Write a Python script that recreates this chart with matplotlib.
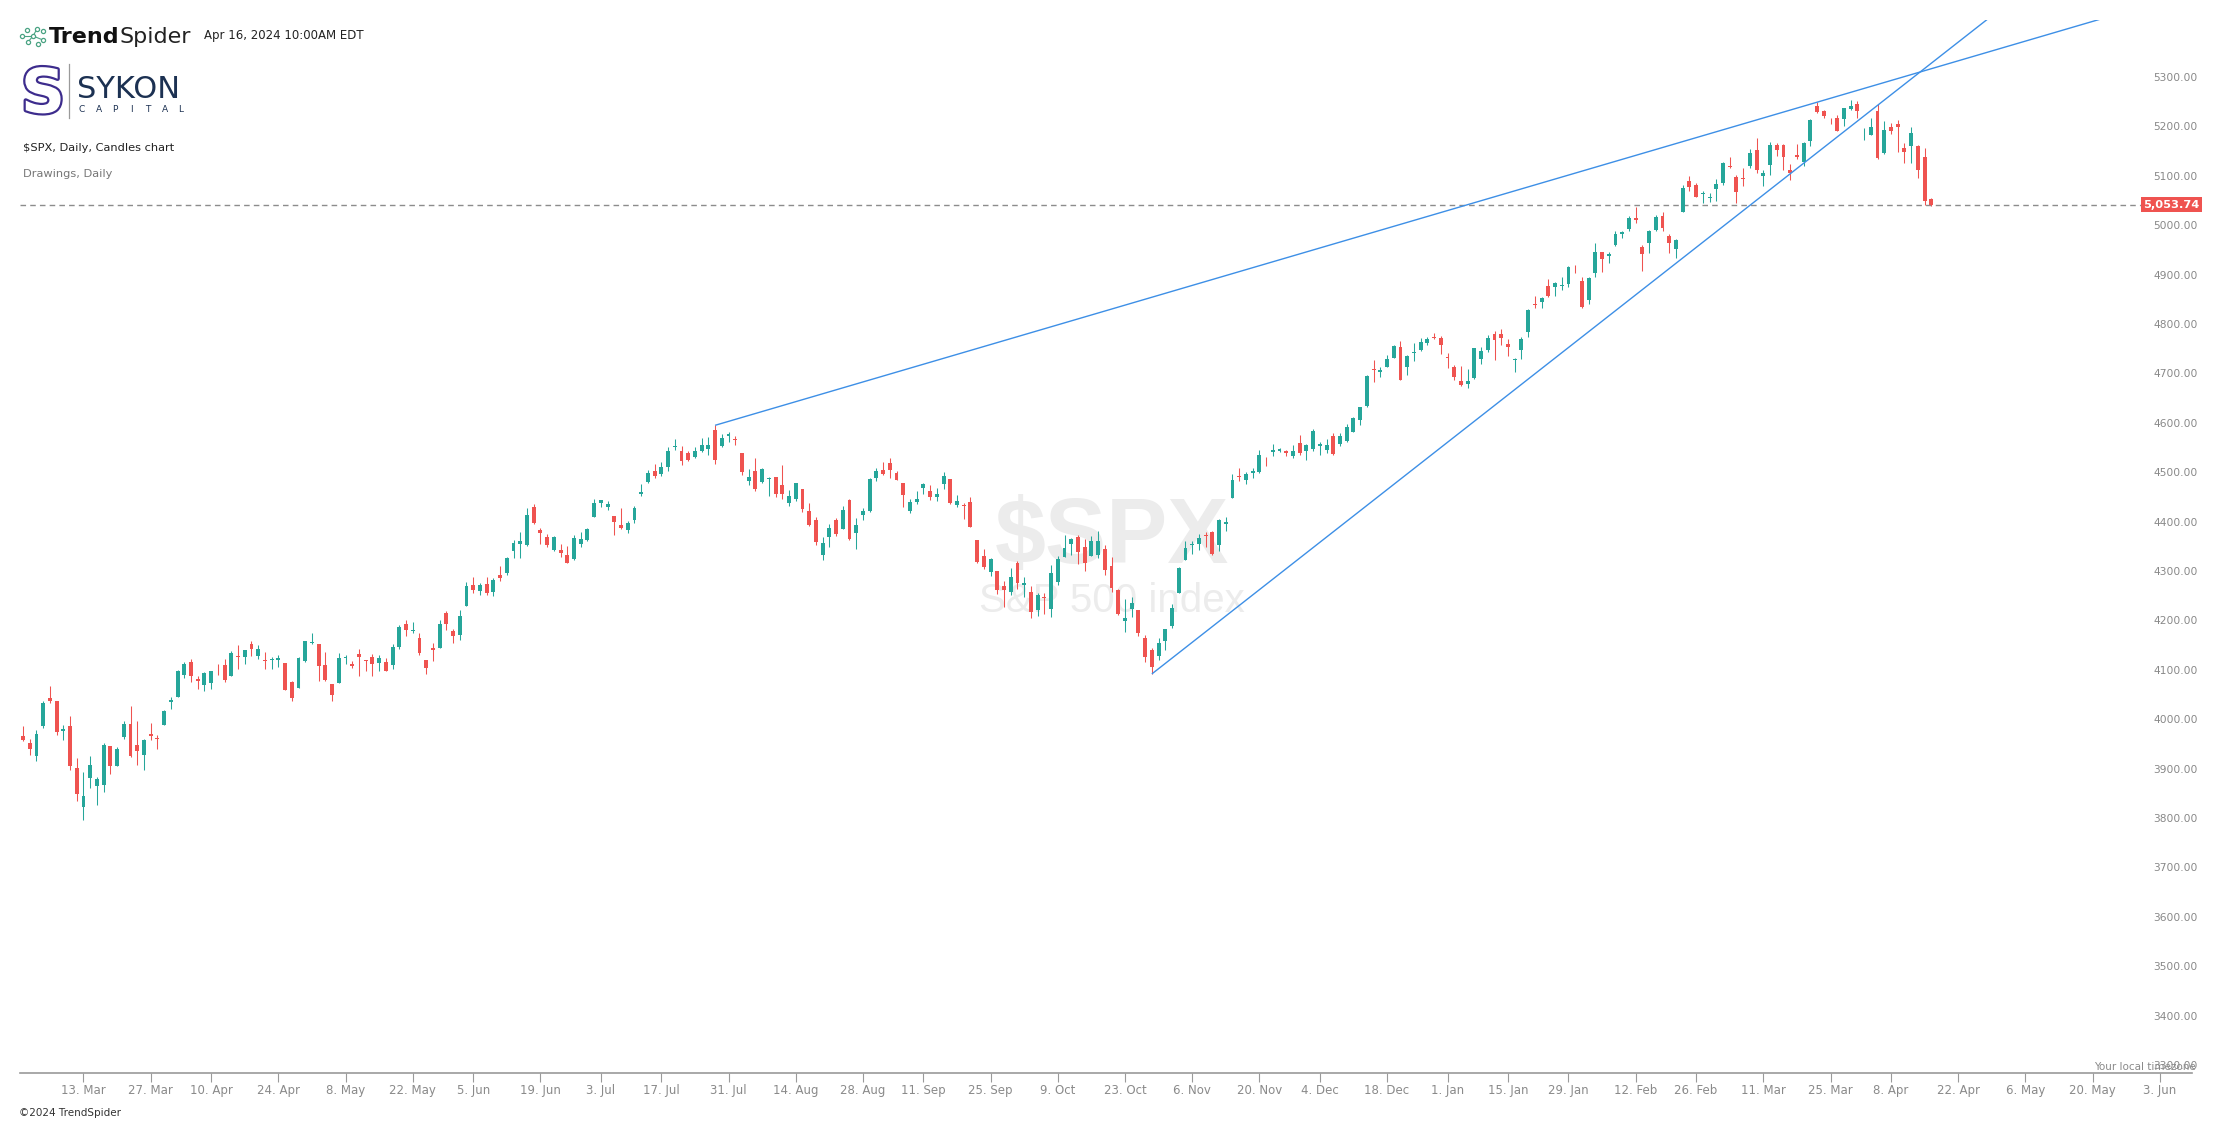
import numpy as np
import pandas as pd
import matplotlib
matplotlib.use("Agg")
import matplotlib.pyplot as plt
import matplotlib.transforms as mtransforms
import matplotlib.patheffects as pe

# ---------------- data: $SPX daily candles, 2023-02-28 .. 2024-04-16 (one row per month) ----------------
opens = [
    3977.19, 3963.34, 3938.68, 3998.02, 4055.15, 4048.26, 3987.55, 3998.66, 3912.77, 3835.12, 3894.01, 3876.74, 3878.93, 3958.69, 3917.47, 3975.89, 4002.04, 3959.21, 3939.21, 3982.93, 3974.13, 3999.53, 4046.74, 4056.18,
    4102.20, 4128.03, 4094.50, 4081.15, 4085.20, 4110.29, 4121.72, 4100.04, 4140.11, 4137.17, 4164.26, 4139.63, 4130.48, 4132.14, 4132.07, 4126.43, 4087.78, 4075.29, 4129.63,
    4166.79, 4164.10, 4122.25, 4082.61, 4084.73, 4136.98, 4124.25, 4143.74, 4132.24, 4138.54, 4126.65, 4127.95, 4122.85, 4157.68, 4204.15, 4190.78, 4176.80, 4132.96, 4155.71, 4156.16, 4226.71, 4190.74,
    4183.03, 4241.01, 4282.99, 4271.34, 4285.47, 4268.69, 4304.88, 4308.32, 4352.61, 4366.29, 4365.33, 4440.95, 4396.11, 4380.01, 4355.40, 4354.17, 4344.84, 4337.36, 4367.48, 4374.94, 4422.44,
    4450.48, 4442.04, 4422.62, 4404.54, 4394.23, 4415.55, 4467.69, 4491.50, 4514.61, 4508.86, 4521.78, 4563.87, 4554.38, 4550.16, 4543.39, 4555.19, 4558.96, 4598.26, 4565.75, 4584.82,
    4578.83, 4550.93, 4494.27, 4513.96, 4491.58, 4498.03, 4501.57, 4487.16, 4450.69, 4458.13, 4478.87, 4433.79, 4416.32, 4344.88, 4380.28, 4415.33, 4396.44, 4455.16, 4389.38, 4426.03, 4432.75, 4500.34, 4517.01,
    4530.60, 4510.06, 4490.35, 4434.55, 4451.30, 4480.98, 4473.27, 4462.65, 4487.78, 4497.98, 4445.13, 4445.41, 4452.81, 4374.36, 4341.74, 4310.62, 4312.88, 4282.63, 4269.65, 4328.18,
    4284.52, 4269.75, 4233.83, 4259.31, 4234.79, 4289.02, 4339.75, 4366.59, 4380.94, 4360.49, 4342.37, 4345.23, 4357.35, 4321.36, 4273.85, 4210.40, 4235.79, 4232.42, 4175.99, 4152.93, 4139.39, 4171.33,
    4201.27, 4268.26, 4334.23, 4364.27, 4366.21, 4384.37, 4391.41, 4364.15, 4406.66, 4458.97, 4505.30, 4497.08, 4509.55, 4511.70, 4538.77, 4553.04, 4555.84, 4554.86, 4545.55, 4571.84, 4554.87,
    4559.43, 4564.37, 4557.25, 4586.23, 4568.84, 4576.20, 4593.39, 4618.30, 4646.20, 4721.04, 4714.23, 4725.58, 4743.72, 4764.73, 4724.29, 4753.92, 4758.86, 4773.45, 4786.44, 4782.88,
    4745.20, 4725.07, 4697.42, 4690.57, 4703.70, 4741.93, 4759.94, 4792.13, 4791.18, 4772.35, 4739.13, 4760.10, 4796.28, 4853.42, 4856.80, 4888.56, 4886.66, 4888.91, 4892.95, 4925.89, 4899.19,
    4861.11, 4916.06, 4957.19, 4950.16, 4973.05, 4995.16, 5004.17, 5026.83, 4967.94, 4976.44, 5003.14, 5031.13, 4989.32, 4963.03, 5038.83, 5100.92, 5093.00, 5074.60, 5067.20, 5085.36,
    5098.51, 5130.99, 5110.52, 5108.03, 5132.38, 5164.46, 5111.96, 5134.30, 5173.49, 5175.14, 5123.31, 5154.77, 5139.09, 5181.69, 5253.43, 5242.48, 5219.52, 5228.85, 5226.31, 5248.03,
    5257.97, 5204.29, 5194.37, 5244.05, 5158.95, 5211.37, 5217.03, 5167.88, 5172.95, 5171.51, 5149.67, 5064.59,
]
highs = [
    3997.50, 3971.73, 3990.84, 4048.29, 4078.49, 4050.00, 4000.41, 4017.81, 3934.05, 3905.05, 3937.29, 3894.26, 3964.46, 3958.91, 3956.62, 4009.08, 4039.49, 4007.66, 3972.74, 4003.83, 3979.20, 4030.59, 4057.85, 4110.75,
    4127.66, 4133.13, 4099.69, 4107.32, 4109.50, 4124.26, 4134.37, 4150.26, 4163.19, 4151.72, 4169.48, 4162.57, 4148.57, 4138.02, 4142.41, 4126.43, 4089.67, 4138.24, 4170.06,
    4186.92, 4164.10, 4148.30, 4082.61, 4147.02, 4142.30, 4130.35, 4154.28, 4132.80, 4143.74, 4141.25, 4135.54, 4164.67, 4202.20, 4212.91, 4209.22, 4185.68, 4132.96, 4165.74, 4212.87, 4231.10, 4195.44,
    4232.43, 4290.67, 4299.28, 4288.33, 4299.19, 4298.01, 4322.62, 4340.13, 4375.37, 4391.82, 4439.20, 4448.47, 4400.15, 4386.22, 4382.25, 4366.55, 4362.06, 4384.42, 4390.35, 4398.39, 4458.48,
    4456.46, 4454.06, 4422.62, 4440.39, 4412.60, 4443.64, 4488.34, 4517.38, 4527.76, 4532.85, 4562.30, 4578.43, 4564.74, 4555.00, 4563.41, 4580.62, 4582.47, 4607.07, 4590.16, 4594.22,
    4584.62, 4550.93, 4519.49, 4540.34, 4519.84, 4503.31, 4502.44, 4527.37, 4476.23, 4490.33, 4478.87, 4449.95, 4421.17, 4381.82, 4407.55, 4418.59, 4443.18, 4458.30, 4418.46, 4439.56, 4500.14, 4521.65, 4532.26,
    4541.25, 4514.29, 4490.35, 4457.81, 4473.53, 4490.77, 4487.11, 4479.39, 4511.99, 4497.98, 4466.36, 4449.85, 4461.03, 4375.70, 4357.40, 4338.51, 4313.01, 4292.07, 4317.27, 4333.15,
    4300.58, 4281.15, 4268.50, 4267.13, 4324.10, 4341.73, 4385.46, 4378.64, 4385.85, 4377.10, 4383.33, 4393.57, 4364.20, 4339.54, 4276.56, 4255.84, 4259.38, 4232.42, 4183.60, 4156.70, 4177.47, 4195.55,
    4245.64, 4319.72, 4373.62, 4372.21, 4386.26, 4391.20, 4393.40, 4418.03, 4421.76, 4508.67, 4521.17, 4511.99, 4520.12, 4557.11, 4542.14, 4568.43, 4560.31, 4557.55, 4568.14, 4587.64, 4569.89,
    4599.39, 4572.37, 4578.56, 4590.74, 4590.92, 4609.23, 4623.71, 4643.93, 4709.69, 4738.57, 4725.53, 4749.52, 4768.69, 4778.01, 4748.71, 4772.94, 4784.72, 4785.39, 4793.30, 4788.43,
    4754.33, 4729.29, 4726.78, 4721.49, 4764.54, 4765.47, 4790.80, 4798.50, 4802.40, 4782.34, 4744.23, 4785.79, 4842.07, 4868.41, 4866.48, 4903.68, 4898.15, 4906.69, 4929.31, 4931.09, 4906.75,
    4906.97, 4975.29, 4957.19, 4957.77, 4999.89, 5000.40, 5030.06, 5048.39, 4971.30, 5002.52, 5032.72, 5038.70, 4993.71, 4983.21, 5094.39, 5111.06, 5097.66, 5080.69, 5077.37, 5104.99,
    5140.33, 5149.67, 5114.54, 5127.97, 5165.62, 5189.26, 5124.66, 5179.87, 5179.14, 5176.85, 5136.86, 5175.60, 5180.31, 5226.19, 5261.10, 5246.09, 5229.09, 5235.16, 5249.26, 5264.85,
    5263.95, 5208.34, 5228.75, 5256.59, 5222.18, 5219.57, 5224.81, 5178.43, 5211.78, 5175.03, 5168.43, 5067.00,
]
lows = [
    3968.98, 3939.05, 3928.16, 3995.17, 4044.61, 3980.31, 3969.76, 3908.70, 3846.32, 3808.86, 3873.63, 3838.24, 3864.11, 3901.27, 3916.89, 3971.19, 3936.17, 3919.05, 3909.16, 3970.49, 3951.53, 3999.53, 4032.10, 4056.18,
    4095.31, 4086.87, 4072.56, 4069.84, 4072.55, 4102.61, 4086.94, 4099.40, 4113.20, 4123.18, 4140.36, 4134.49, 4114.57, 4113.86, 4117.77, 4071.38, 4049.35, 4075.29, 4127.18,
    4164.12, 4089.72, 4088.86, 4048.28, 4084.73, 4123.81, 4116.65, 4098.92, 4109.29, 4099.12, 4110.27, 4109.86, 4113.62, 4153.50, 4180.20, 4186.60, 4142.54, 4103.98, 4129.73, 4156.16, 4192.18, 4166.15,
    4171.64, 4241.01, 4266.82, 4263.09, 4263.96, 4261.07, 4291.70, 4304.37, 4337.64, 4337.85, 4362.60, 4407.44, 4367.19, 4360.14, 4351.82, 4341.34, 4328.08, 4335.00, 4360.22, 4371.97, 4422.44,
    4442.29, 4436.61, 4385.05, 4397.40, 4389.92, 4408.46, 4463.23, 4489.36, 4499.56, 4504.90, 4514.59, 4557.48, 4527.56, 4535.79, 4541.29, 4552.42, 4547.58, 4528.56, 4564.01, 4573.14,
    4567.53, 4505.75, 4485.54, 4474.55, 4491.15, 4464.39, 4461.33, 4457.92, 4443.98, 4453.44, 4432.19, 4403.55, 4364.83, 4335.31, 4360.30, 4382.77, 4396.44, 4375.55, 4356.29, 4414.98, 4431.68, 4493.59, 4507.39,
    4501.35, 4496.01, 4442.38, 4430.46, 4448.38, 4467.89, 4456.83, 4453.52, 4478.69, 4447.21, 4442.11, 4416.61, 4401.38, 4329.17, 4316.49, 4302.70, 4265.98, 4238.63, 4264.38, 4274.86,
    4260.21, 4216.45, 4220.48, 4225.91, 4219.55, 4283.79, 4339.64, 4345.34, 4325.43, 4311.97, 4342.37, 4337.54, 4303.84, 4269.69, 4223.03, 4189.22, 4219.43, 4181.42, 4127.90, 4103.78, 4132.94, 4153.12,
    4197.74, 4268.26, 4334.23, 4347.53, 4355.41, 4359.76, 4343.94, 4353.34, 4393.82, 4458.97, 4495.31, 4487.83, 4499.66, 4510.36, 4525.51, 4545.05, 4552.80, 4544.12, 4540.51, 4547.15, 4537.24,
    4554.71, 4546.72, 4551.68, 4546.50, 4565.22, 4574.06, 4593.39, 4608.09, 4643.23, 4694.34, 4704.69, 4725.58, 4743.72, 4697.82, 4708.35, 4736.77, 4758.45, 4768.90, 4780.98, 4751.99,
    4722.67, 4699.71, 4687.53, 4682.11, 4699.82, 4730.35, 4756.20, 4739.58, 4768.98, 4747.12, 4714.82, 4740.57, 4785.87, 4844.05, 4844.37, 4865.94, 4869.34, 4881.47, 4887.40, 4916.27, 4845.15,
    4853.52, 4907.99, 4918.09, 4934.88, 4969.05, 4987.09, 5000.34, 5016.83, 4920.31, 4955.87, 4999.44, 4999.52, 4955.02, 4946.00, 5038.83, 5081.46, 5068.91, 5057.29, 5058.35, 5061.89,
    5094.16, 5127.18, 5056.82, 5092.22, 5128.21, 5117.50, 5091.14, 5114.48, 5151.88, 5123.30, 5104.35, 5145.47, 5131.59, 5171.55, 5240.09, 5229.87, 5216.09, 5203.42, 5213.92, 5245.82,
    5229.20, 5184.05, 5194.37, 5146.06, 5157.21, 5197.35, 5160.78, 5138.70, 5138.77, 5107.94, 5052.47, 5050.50,
]
closes = [
    3970.15, 3951.39, 3981.35, 4045.64, 4048.42, 3986.37, 3992.01, 3918.32, 3861.59, 3855.76, 3919.29, 3891.93, 3960.28, 3916.64, 3951.57, 4002.87, 3936.97, 3948.72, 3970.99, 3977.53, 3971.27, 4027.81, 4050.83, 4109.31,
    4124.51, 4100.60, 4090.38, 4105.02, 4109.11, 4108.94, 4091.95, 4146.22, 4137.64, 4151.32, 4154.87, 4154.52, 4129.79, 4133.52, 4137.04, 4071.63, 4055.99, 4135.35, 4169.48,
    4167.87, 4119.58, 4090.75, 4061.22, 4136.25, 4138.12, 4119.17, 4137.64, 4130.62, 4124.08, 4136.28, 4109.90, 4158.77, 4198.05, 4191.98, 4192.63, 4145.58, 4115.24, 4151.28, 4205.45, 4205.52, 4179.83,
    4221.02, 4282.37, 4273.79, 4283.85, 4267.52, 4293.93, 4298.86, 4338.93, 4369.01, 4372.59, 4425.84, 4409.59, 4388.71, 4365.69, 4381.89, 4348.33, 4328.82, 4378.41, 4376.86, 4396.44, 4450.38,
    4455.59, 4446.82, 4411.59, 4398.95, 4409.53, 4439.26, 4472.16, 4510.04, 4505.42, 4522.79, 4554.98, 4565.72, 4534.87, 4536.34, 4554.64, 4567.46, 4566.75, 4537.41, 4582.23, 4588.96,
    4576.73, 4513.39, 4501.89, 4478.03, 4518.44, 4499.38, 4467.71, 4468.83, 4464.05, 4489.72, 4437.86, 4404.33, 4370.36, 4369.71, 4399.77, 4387.55, 4436.01, 4376.31, 4405.71, 4433.31, 4497.63, 4514.87, 4507.66,
    4515.77, 4496.83, 4465.48, 4451.14, 4457.49, 4487.46, 4461.90, 4467.44, 4505.10, 4450.32, 4453.53, 4443.95, 4402.20, 4330.00, 4320.06, 4337.44, 4273.53, 4274.51, 4299.70, 4288.05,
    4288.39, 4229.45, 4263.75, 4258.19, 4308.50, 4335.66, 4358.24, 4376.95, 4349.61, 4327.78, 4373.63, 4373.20, 4314.60, 4278.00, 4224.16, 4217.04, 4247.68, 4186.77, 4137.23, 4117.37, 4166.82, 4193.80,
    4237.86, 4317.78, 4358.34, 4365.98, 4378.38, 4382.78, 4347.35, 4415.24, 4411.55, 4495.70, 4502.88, 4508.24, 4514.02, 4547.38, 4538.19, 4556.62, 4559.34, 4550.43, 4554.89, 4550.58, 4567.80,
    4594.63, 4569.78, 4567.18, 4549.34, 4585.59, 4604.37, 4622.44, 4643.70, 4707.09, 4719.55, 4719.19, 4740.56, 4768.37, 4698.35, 4746.75, 4754.63, 4774.75, 4781.58, 4783.35, 4769.83,
    4742.83, 4704.81, 4688.68, 4697.24, 4763.54, 4756.50, 4783.45, 4780.24, 4783.83, 4765.98, 4739.21, 4780.94, 4839.81, 4850.43, 4864.60, 4868.55, 4894.16, 4890.97, 4927.93, 4924.97, 4845.65,
    4906.19, 4958.61, 4942.81, 4954.23, 4995.06, 4997.91, 5026.61, 5021.84, 4953.17, 5000.62, 5029.73, 5005.57, 4975.51, 4981.80, 5087.03, 5088.80, 5069.53, 5078.18, 5069.76, 5096.27,
    5137.08, 5130.95, 5078.65, 5104.76, 5157.36, 5123.69, 5117.94, 5175.27, 5165.31, 5150.48, 5117.09, 5149.42, 5178.51, 5224.62, 5241.53, 5234.18, 5218.19, 5203.58, 5248.49, 5254.35,
    5243.77, 5205.81, 5211.49, 5147.21, 5204.34, 5202.39, 5209.91, 5160.64, 5199.06, 5123.41, 5061.82, 5053.74,
]

first_session = "2023-02-28"
last_session = "2024-04-16"
market_holidays = ["2023-04-07", "2023-05-29", "2023-06-19", "2023-07-04", "2023-09-04",
                   "2023-11-23", "2023-12-25", "2024-01-01", "2024-01-15", "2024-02-19", "2024-03-29"]
tick_dates = pd.date_range("2023-03-13", "2024-06-03", freq="14D")
y_ticks = list(range(3300, 5301, 100))
last_price = 5053.74
upper_line = [("2023-07-27", 4607.07), ("2024-03-21", 5261.10)]
lower_line = [("2023-10-27", 4103.78), ("2024-04-16", 5340.00)]

# ---------------- calendar (trading-day axis) ----------------
sessions = pd.bdate_range(first_session, last_session)
sessions = sessions[~sessions.isin(pd.to_datetime(market_holidays))]
future = pd.bdate_range(pd.Timestamp(last_session) + pd.Timedelta(days=1), "2024-07-31")
calendar = sessions.append(future)
assert len(sessions) == len(closes) == len(opens) == len(highs) == len(lows)

def idx(d):
    return int(calendar.searchsorted(pd.Timestamp(d)))

# ---------------- figure ----------------
W, H = 2222, 1124
fig = plt.figure(figsize=(W / 100, H / 100), dpi=100)
fig.patch.set_facecolor("white")
ax = fig.add_axes([20 / W, 1 - 1073 / H, (2192 - 20) / W, (1073 - 20) / H])
ax.set_xlim(-0.45, 322.8)
ax.set_ylim(3296, 5427.5)

GREEN, RED = "#26a69a", "#ef5350"
o, h, l, c = map(np.asarray, (opens, highs, lows, closes))
x = np.arange(len(c))
cols = np.where(c > o, GREEN, RED)
ax.vlines(x, l, h, colors=cols, lw=0.75, zorder=3)
body_bottom = np.minimum(o, c)
body_h = np.maximum(np.abs(c - o), 1.5)
ax.bar(x, body_h, bottom=body_bottom, width=0.58, color=cols, edgecolor="none", zorder=4)

# watermark
ax.text(162, 4328, "$SPX", ha="center", va="baseline", fontsize=66, fontweight="bold",
        family=["Liberation Sans", "DejaVu Sans"], color="#ececec", zorder=0)
ax.text(162, 4229, "S&P 500 index", ha="center", va="baseline", fontsize=29,
        family=["Liberation Sans", "DejaVu Sans"], color="#ececec", zorder=0)

# trend lines
for (d1, p1), (d2, p2) in (upper_line, lower_line):
    x1, x2 = idx(d1), idx(d2)
    slope = (p2 - p1) / (x2 - x1)
    xe = 330
    ax.plot([x1, xe], [p1, p1 + slope * (xe - x1)], color="#3d8fe6", lw=1.0, zorder=5,
            solid_capstyle="butt")

# last price
ax.axhline(last_price, color="#8c8c8c", lw=1.0, ls=(0, (4, 3)), zorder=2)
blend = mtransforms.blended_transform_factory(ax.transAxes, ax.transData)
ax.text(0.9905, last_price, f"{last_price:,.2f}", transform=blend, ha="center", va="center",
        color="white", fontweight="bold", fontsize=8.2, clip_on=False, zorder=7,
        bbox=dict(boxstyle="square,pad=0.22", fc=RED, ec="none"))

# axes styling
for s in ("top", "left", "right"):
    ax.spines[s].set_visible(False)
ax.spines["bottom"].set_color("#9a9a9a")
ax.spines["bottom"].set_linewidth(1.2)

ax.yaxis.tick_right()
ax.set_yticks(y_ticks, labels=[f"{v:.2f}" for v in y_ticks], va="bottom")
ax.tick_params(axis="y", length=0, pad=-28, labelsize=7.7, labelcolor="#888888")

tick_pos = [idx(d) for d in tick_dates]
tick_lab = [f"{d.day}. {d.strftime('%b')}" for d in tick_dates]
ax.set_xticks(tick_pos, labels=tick_lab, fontfamily=["Liberation Sans Narrow", "DejaVu Sans"])
ax.tick_params(axis="x", direction="out", length=6.5, width=0.8, color="#9a9a9a", pad=1.5,
               labelsize=8.5, labelcolor="#8a8a8a")

# ---------------- overlay (header, logos, footer) ----------------
ov = fig.add_axes([0, 0, 1, 1], zorder=10)
ov.set_xlim(0, W)
ov.set_ylim(H, 0)
ov.axis("off")

# TrendSpider icon
icon_pts = [(22, 36), (27, 30), (28, 42), (33, 36), (37, 29), (38, 44), (43, 40), (43, 31)]
for (a, b) in [(0, 3), (3, 2), (3, 4), (3, 6)]:
    ov.plot([icon_pts[a][0], icon_pts[b][0]], [icon_pts[a][1], icon_pts[b][1]], color="#4aa383", lw=0.8)
ov.scatter([p[0] for p in icon_pts], [p[1] for p in icon_pts], s=9, facecolors="white",
           edgecolors="#4aa383", linewidths=0.9, zorder=3)
t_trend = ov.text(49, 43, "Trend", fontsize=16, fontweight="bold", color="#111111", va="baseline", ha="left")
ov.annotate("Spider", xy=(1, 0), xycoords=t_trend, fontsize=16, color="#222222", va="bottom", ha="left")
ov.text(204, 36, "Apr 16, 2024 10:00AM EDT", fontsize=8.5, color="#222222", va="center", ha="left")

# SYKON Capital logo
ov.text(43, 96, "S", fontsize=44, fontweight="bold", color="white", ha="center", va="center",
        path_effects=[pe.Stroke(linewidth=3.2, foreground="#3d2c8d"), pe.Normal()])
ov.plot([69, 69], [64, 118], color="#9a9a9a", lw=0.9)
ov.text(77, 98, "SYKON", fontsize=22, color="#1c3152", va="baseline", ha="left")
for k, ch in enumerate("CAPITAL"):
    ov.text(82 + k * 16.5, 112, ch, fontsize=6.5, color="#1c3152", va="baseline", ha="center")

ov.text(23, 148, "$SPX, Daily, Candles chart", fontsize=8.2, color="#222222", va="center", ha="left")
ov.text(23, 174, "Drawings, Daily", fontsize=8.2, color="#777777", va="center", ha="left")

ov.text(2196, 1070, "Your local timezone", fontsize=7.5, color="#8a8a8a", ha="right", va="baseline",
        family=["Liberation Sans Narrow", "DejaVu Sans"])
ov.text(19, 1113, "\u00a92024 TrendSpider", fontsize=7.5, color="#333333", ha="left", va="center",
        family=["Liberation Sans Narrow", "DejaVu Sans"])

fig.savefig("out.png", dpi=100, facecolor="white")
